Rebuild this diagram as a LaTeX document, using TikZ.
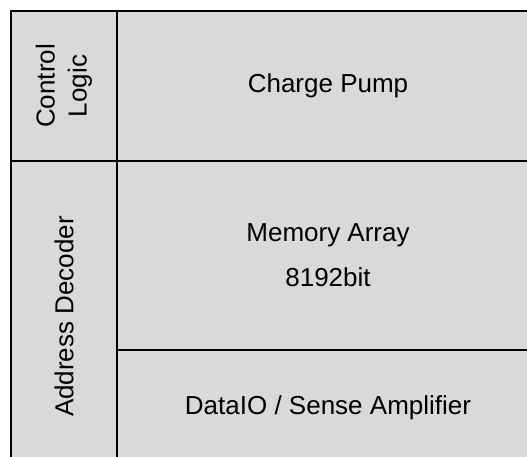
\documentclass[tikz,border=0pt]{standalone}
\usepackage{fontspec}
\setmainfont{Liberation Sans}
\usepackage{xcolor}
\usepackage{tikz}
\usetikzlibrary{positioning}
\definecolor{blockfill}{HTML}{D9D9D9}
\definecolor{ink}{HTML}{000000}
\tikzset{
  block/.style={rectangle, draw=ink, fill=blockfill, line width=2pt,
                align=center, inner sep=0pt, text=ink,
                font=\fontsize{26}{32}\selectfont},
  sideblock/.style={block, rotate=90}
}

\begin{document}
\begin{tikzpicture}[x=1pt, y=-1pt]
  \useasboundingbox (0,0) rectangle (527,457);
  \clip (0,0) rectangle (527,457);
  % left column, text turned
  \node[sideblock, minimum width=150pt, minimum height=106pt] (ctrl) at (64,86) {Control\\Logic};
  \node[sideblock, minimum width=311pt, minimum height=106pt] (addr) at (64,316.5) {Address Decoder};
  % right column
  \node[block, minimum width=422pt, minimum height=150pt] (pump) at (328,86) {Charge Pump};
  \node[block, minimum width=422pt, minimum height=189pt] (mem) at (328,255.5) {Memory Array\\[13pt]8192bit};
  \node[block, minimum width=422pt, minimum height=115pt] (dio) at (328,407.5) {DataIO / Sense Amplifier};
\end{tikzpicture}
\end{document}
